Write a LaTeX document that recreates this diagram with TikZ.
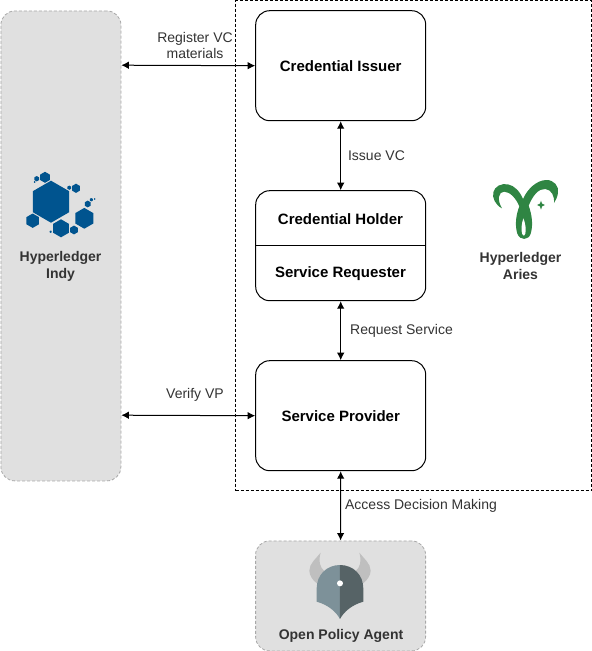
\documentclass[tikz,border=0pt]{standalone}
\usepackage{fontspec}
\setmainfont{Liberation Sans}
\usetikzlibrary{arrows.meta}
\definecolor{panel}{HTML}{E0E0E0}
\definecolor{panelline}{HTML}{A8A8A8}
\definecolor{indyblue}{HTML}{00548F}
\definecolor{ariesgreen}{HTML}{2F8543}
\definecolor{textgrey}{HTML}{333333}
\definecolor{opalight}{HTML}{7D9199}
\definecolor{opadark}{HTML}{566366}
\definecolor{opahorn}{HTML}{BFBFBF}
\tikzset{
 box/.style={draw=black,line width=1pt,rounded corners=14pt,fill=white,font=\bfseries\fontsize{15}{17}\selectfont,align=center,inner sep=0pt},
 greypanel/.style={draw=panelline,dashed,dash pattern=on 3pt off 2pt,line width=.8pt,fill=panel,inner sep=0pt},
 link/.style={line width=1pt,{Latex[length=7.5pt,width=7.5pt]}-{Latex[length=7.5pt,width=7.5pt]}},
 lbl/.style={font=\fontsize{14}{16.5}\selectfont,text=black!80,align=center,inner sep=0pt},
 logolbl/.style={font=\bfseries\fontsize{14}{17}\selectfont,text=textgrey,align=center,inner sep=0pt},
 hex/.style={fill=indyblue,draw=none}
}
\newcommand{\hexa}[3]{\fill[hex] (#1,#2-#3) -- (#1+.866*#3,#2-.5*#3) -- (#1+.866*#3,#2+.5*#3) -- (#1,#2+#3) -- (#1-.866*#3,#2+.5*#3) -- (#1-.866*#3,#2-.5*#3) -- cycle;}
\begin{document}
\begin{tikzpicture}[x=1pt,y=-1pt]
\useasboundingbox (0,0) rectangle (592,651);
% panels
\node[greypanel,rounded corners=14pt,minimum width=120pt,minimum height=470pt,anchor=north west] (indy) at (0.5,10.5) {};
\node[draw=black,dashed,dash pattern=on 3pt off 2pt,line width=.8pt,minimum width=356pt,minimum height=490pt,anchor=north west,inner sep=0pt] (aries) at (235.2,0.2) {};
\node[greypanel,rounded corners=14pt,minimum width=170pt,minimum height=110pt,anchor=north west] (opa) at (255.2,540.5) {};
% boxes
\node[box,minimum width=170pt,minimum height=110pt,anchor=north west] (issuer) at (255.2,10.2) {Credential Issuer};
\node[box,minimum width=170pt,minimum height=110pt,anchor=north west] (holder) at (255.2,190.2) {};
\draw[line width=1pt] (holder.west) -- (holder.east);
\node[font=\bfseries\fontsize{15}{17}\selectfont,inner sep=0pt] (holdertext) at (340.5,219) {Credential Holder};
\node[font=\bfseries\fontsize{15}{17}\selectfont,inner sep=0pt] (reqtext) at (340.5,274) {Service Requester};
\node[box,minimum width=170pt,minimum height=110pt,anchor=north west] (provider) at (255.2,360.2) {Service Provider};
% connectors
\coordinate (regL) at (indy.east |- 0,65.2);
\draw[link] (regL) -- (issuer.west);
\coordinate (verL) at (indy.east |- 0,415.2);
\draw[link] (verL) -- (provider.west);
\draw[link] (issuer.south) -- (holder.north);
\draw[link] (holder.south) -- (provider.north);
\draw[link] (provider.south) -- (opa.north);
% labels
\node[lbl] (l1) at (195,45.5) {Register VC\\materials};
\node[lbl] (l2) at (376.5,155.5) {Issue VC};
\node[lbl] (l3) at (401.5,330.5) {Request Service};
\node[lbl] (l4) at (195,394.5) {Verify VP};
\node[lbl] (l5) at (421,506) {Access Decision Making};
\node[logolbl] (t1) at (60.5,266) {Hyperledger\\Indy};
\node[logolbl] (t2) at (520.5,266) {Hyperledger\\Aries};
\node[logolbl] (t3) at (341,635.5) {Open Policy Agent};
% Indy logo
\hexa{51}{201.7}{21}
\hexa{45}{177.3}{5.5}
\hexa{36.7}{178.7}{2.7}
\hexa{34.7}{182}{.9}
\hexa{76}{188.3}{4.6}
\hexa{69.3}{187.7}{2.1}
\hexa{32.7}{220.7}{7.2}
\hexa{61}{228.3}{9}
\hexa{74}{230}{4.4}
\hexa{84.3}{218.3}{10.4}
\hexa{87.7}{204}{3.4}
\hexa{91.3}{199.7}{1.7}
\hexa{94.7}{199}{.8}
\hexa{50.7}{231.7}{1.2}
% Aries logo
\begin{scope}[shift={(480,175)},x=.3333pt,y=-.3333pt]
\fill[ariesgreen] (66,100)
 .. controls (46,90) and (36,68) .. (40,52)
 .. controls (44,34) and (64,24) .. (84,28)
 .. controls (104,32) and (120,50) .. (129,72)
 .. controls (142,42) and (170,16) .. (198,15)
 .. controls (222,14) and (238,34) .. (234,54)
 .. controls (232,66) and (228,76) .. (222,84)
 .. controls (224,62) and (214,44) .. (196,42)
 .. controls (176,40) and (158,62) .. (146,92)
 .. controls (156,120) and (160,150) .. (152,176)
 .. controls (146,196) and (120,198) .. (112,176)
 .. controls (104,150) and (108,120) .. (118,94)
 .. controls (108,70) and (90,50) .. (72,50)
 .. controls (56,50) and (50,74) .. (66,100) -- cycle;
\fill[white] (130,130) .. controls (125,146) and (122,164) .. (127,178) .. controls (130,184) and (134,184) .. (136,176) .. controls (139,162) and (136,144) .. (130,130) -- cycle;
\fill[ariesgreen] (183,77) .. controls (184,85) and (186,88) .. (195,90) .. controls (186,92) and (184,95) .. (183,104) .. controls (182,95) and (180,92) .. (171,90) .. controls (180,88) and (182,85) .. (183,77) -- cycle;
\end{scope}
% OPA logo
\begin{scope}[shift={(250,530)},x=.3333pt,y=-.3333pt]
\fill[opahorn] (212,68) .. controls (200,84) and (178,100) .. (178,122) .. controls (178,136) and (188,150) .. (200,160) -- (225,125) .. controls (208,112) and (205,92) .. (212,68) -- cycle;
\fill[opahorn] (328,68) .. controls (340,84) and (362,100) .. (362,122) .. controls (362,136) and (352,150) .. (340,160) -- (315,125) .. controls (332,112) and (335,92) .. (328,68) -- cycle;
\fill[opalight] (270,105) .. controls (230,105) and (200,135) .. (200,175) -- (200,215) .. controls (235,225) and (258,245) .. (270,267) -- cycle;
\fill[opadark] (270,105) .. controls (310,105) and (340,135) .. (340,175) -- (340,215) .. controls (305,225) and (282,245) .. (270,267) -- cycle;
\fill[white] (270,160) circle[radius=9];
\end{scope}
\end{tikzpicture}
\end{document}
